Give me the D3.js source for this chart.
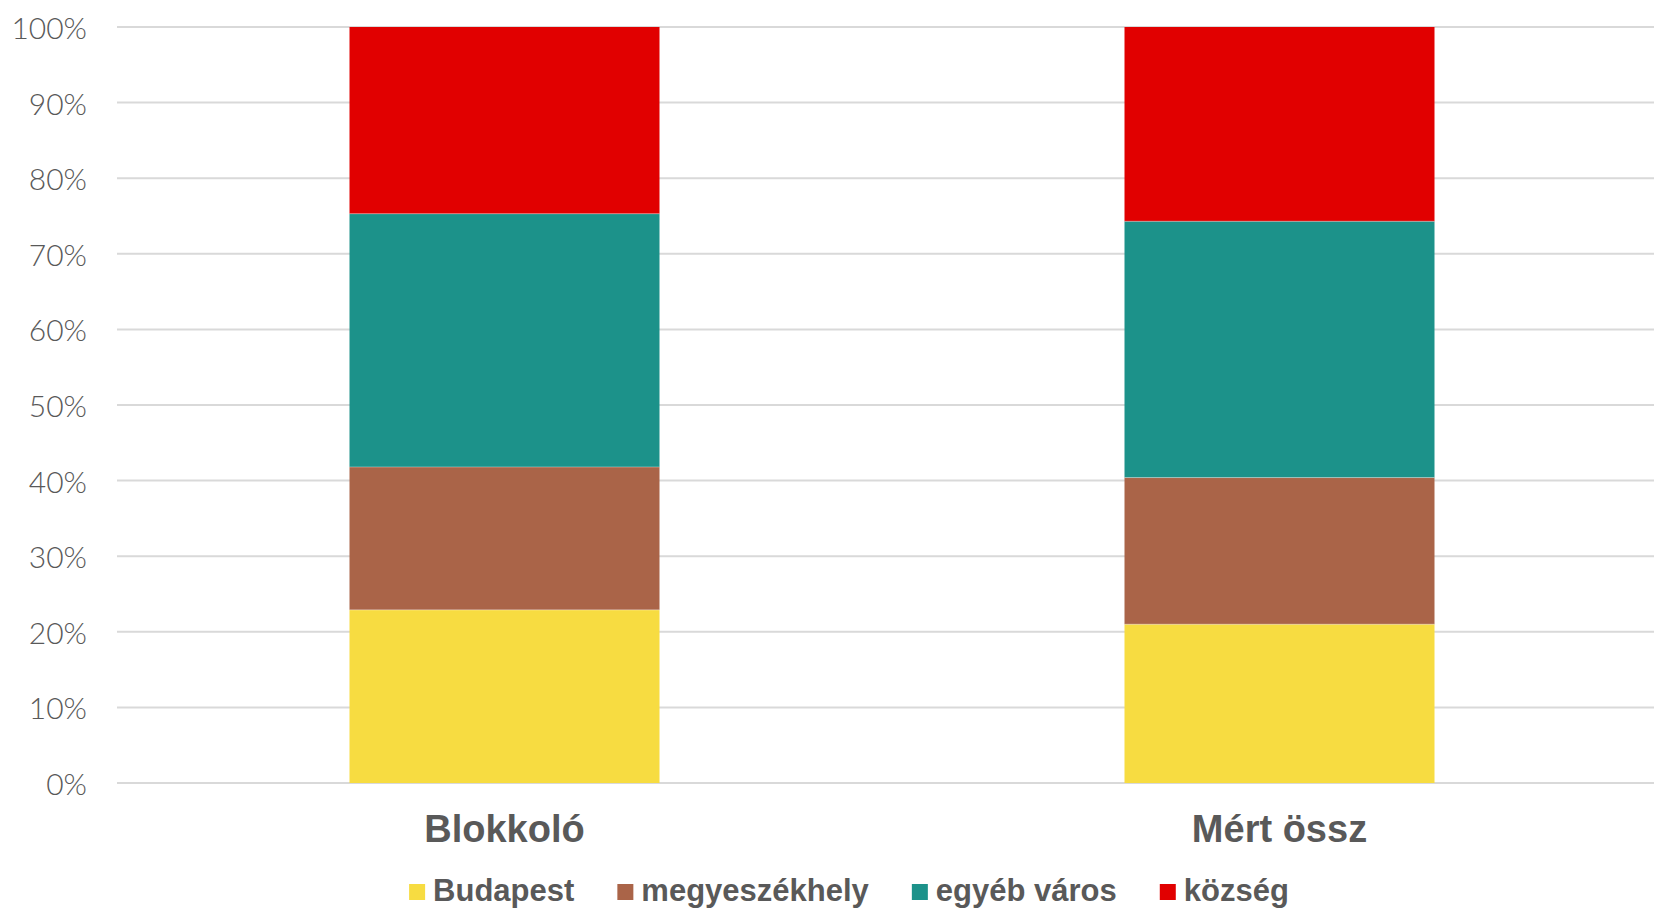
<!DOCTYPE html>
<html>
<head>
<meta charset="utf-8">
<script src="https://cdn.jsdelivr.net/npm/d3@7"></script>
<style>
  html, body { margin: 0; padding: 0; background: #fff; }
  svg { display: block; }
</style>
</head>
<body>
<div id="chart"></div>
<script>
// categories and series (shares, %)
const categories = ["Blokkoló", "Mért össz"];
const seriesNames = ["Budapest", "megyeszékhely", "egyéb város", "község"];
const budapest = [22.9, 21.0];
const megyeszekhely = [18.9, 19.4];
const egyebVaros = [33.5, 33.9];
const kozseg = [24.7, 25.7];
const yTicks = [0, 10, 20, 30, 40, 50, 60, 70, 80, 90, 100];

const colors = ["#f7dc41", "#aa6448", "#1c928a", "#e10000"];

const width = 1654;
const height = 909;
const margin = {top: 27, left: 117, bottom: 126};
const plotRight = 1667; // plot area runs a bit past the visible edge

const data = categories.map((c, i) => ({
  cat: c,
  "Budapest": budapest[i],
  "megyeszékhely": megyeszekhely[i],
  "egyéb város": egyebVaros[i],
  "község": kozseg[i]
}));

const stack = d3.stack().keys(seriesNames);
const layers = stack(data);

const x = d3.scaleBand()
  .domain(categories)
  .range([margin.left, plotRight])
  .paddingInner(0.6)
  .paddingOuter(0.3);

const y = d3.scaleLinear()
  .domain([0, 100])
  .range([height - margin.bottom, margin.top]);

const svg = d3.select("#chart").append("svg")
  .attr("width", width)
  .attr("height", height);

// gridlines
svg.append("g")
  .selectAll("line")
  .data(yTicks)
  .join("line")
  .attr("x1", margin.left)
  .attr("x2", plotRight)
  .attr("y1", d => y(d))
  .attr("y2", d => y(d))
  .attr("stroke", "#d9d9d9")
  .attr("stroke-width", 2);

// y axis labels
const yAxis = svg.append("g")
  .attr("transform", `translate(${margin.left - 30},0)`)
  .call(d3.axisLeft(y).tickValues(yTicks).tickFormat(d => d + "%").tickSize(0).tickPadding(0));
yAxis.select(".domain").remove();
yAxis.selectAll("text")
  .attr("fill", "#595959")
  .attr("dy", "0.38em")
  .style("font-family", "Lato, 'Open Sans', sans-serif")
  .style("font-weight", 300)
  .style("font-size", "30px");

// bars
svg.append("g")
  .selectAll("g")
  .data(layers)
  .join("g")
  .attr("fill", (d, i) => colors[i])
  .selectAll("rect")
  .data(d => d)
  .join("rect")
  .attr("x", d => x(d.data.cat))
  .attr("width", x.bandwidth())
  .attr("y", d => y(d[1]))
  .attr("height", d => y(d[0]) - y(d[1]));

// thin separators between segments
svg.append("g")
  .selectAll("g")
  .data(layers.slice(1))
  .join("g")
  .selectAll("line")
  .data(d => d)
  .join("line")
  .attr("x1", d => x(d.data.cat))
  .attr("x2", d => x(d.data.cat) + x.bandwidth())
  .attr("y1", d => y(d[0]))
  .attr("y2", d => y(d[0]))
  .attr("stroke", "#ffffff")
  .attr("stroke-opacity", 0.35)
  .attr("stroke-width", 1);

// x axis labels
svg.append("g")
  .selectAll("text")
  .data(categories)
  .join("text")
  .attr("x", d => x(d) + x.bandwidth() / 2)
  .attr("y", 842)
  .attr("text-anchor", "middle")
  .attr("fill", "#595959")
  .style("font-family", "'Liberation Sans', Arial, sans-serif")
  .style("font-weight", "bold")
  .style("font-size", "38px")
  .text(d => d);

// legend
const legend = svg.append("g");
const items = legend.selectAll("g")
  .data(seriesNames)
  .join("g");
items.append("rect")
  .attr("width", 16)
  .attr("height", 16)
  .attr("y", -17)
  .attr("fill", (d, i) => colors[i]);
items.append("text")
  .attr("x", 24)
  .attr("fill", "#595959")
  .style("font-family", "'Liberation Sans', Arial, sans-serif")
  .style("font-weight", "bold")
  .style("font-size", "31px")
  .text(d => d);

let pos = 0;
const gap = 43;
items.each(function() {
  const w = 24 + d3.select(this).select("text").node().getComputedTextLength();
  d3.select(this).attr("transform", `translate(${pos},0)`);
  pos += w + gap;
});
const legendWidth = pos - gap;
legend.attr("transform", `translate(${849 - legendWidth / 2},901)`);
</script>
</body>
</html>
